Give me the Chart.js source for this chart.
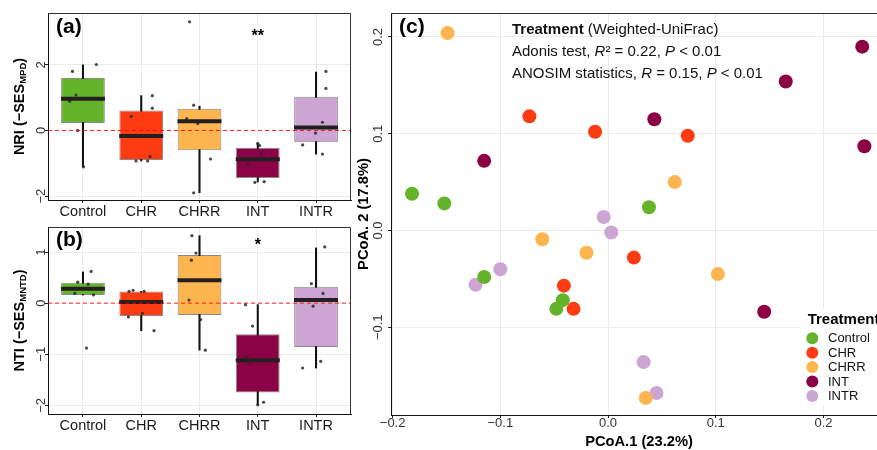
<!DOCTYPE html>
<html>
<head>
<meta charset="utf-8">
<script src="https://cdn.jsdelivr.net/npm/chart.js@4.4.1/dist/chart.umd.min.js"></script>
<style>
  html, body { margin: 0; padding: 0; background: #fff; overflow: hidden; width: 877px; height: 450px; position: relative; }
  canvas { position: absolute; }
</style>
</head>
<body>
<canvas id="nri" width="360" height="222" style="left:0;top:0"></canvas>
<canvas id="nti" width="360" height="222" style="left:0;top:214px"></canvas>
<canvas id="pcoa" width="540" height="450" style="left:350px;top:0"></canvas>
<script>
// ---- data ----
const categories = ["Control", "CHR", "CHRR", "INT", "INTR"];

// (a) NRI boxplots
const nriLow    = [-1.11, -0.93, -1.90, -1.57, -0.72];
const nriQ1     = [ 0.23, -0.90, -0.60, -1.45, -0.36];
const nriMedian = [ 0.97, -0.17,  0.28, -0.88,  0.09];
const nriQ3     = [ 1.60,  0.61,  0.66, -0.53,  1.03];
const nriHigh   = [ 2.00,  1.06,  0.74, -0.38,  1.78];
const nriPoints = [
  [2.01, 1.80, 1.08, 0.89, 0.00, -1.11],
  [1.06, 0.68, 0.43, -0.80, -0.93, -0.93],
  [0.77, 0.36, 0.21, -0.87, -1.90, 3.31],
  [-0.40, -0.46, -0.69, -1.04, -1.58, -1.56],
  [1.80, 1.28, 0.25, -0.08, -0.44, -0.72]
];
const nriJitter = [
  [0.23, -0.18, -0.12, -0.23, -0.09, 0.01],
  [0.19, 0.19, -0.17, 0.15, -0.09, 0.11],
  [-0.10, -0.22, -0.03, 0.19, -0.10, -0.17],
  [0.00, 0.03, 0.06, -0.17, -0.05, 0.11],
  [0.17, 0.17, 0.11, -0.01, -0.23, 0.11]
];
const nriSig = ["", "", "", "**", ""];
const nriSigY = [null, null, null, 2.97, null];

// (b) NTI boxplots
const ntiLow    = [ 0.16, -0.54, -0.92, -1.99, -1.27];
const ntiQ1     = [ 0.16, -0.25, -0.23, -1.75, -0.86];
const ntiMedian = [ 0.28,  0.02,  0.45, -1.12,  0.06];
const ntiQ3     = [ 0.40,  0.23,  0.94, -0.61,  0.32];
const ntiHigh   = [ 0.61,  0.23,  1.32, -0.03,  1.08];
const ntiPoints = [
  [0.62, 0.41, 0.37, 0.19, 0.16, -0.88],
  [0.23, 0.25, 0.23, -0.27, -0.20, -0.54],
  [1.32, 0.98, 0.84, 0.06, -0.32, -0.92],
  [-0.03, -0.45, -1.05, -1.17, -1.99, -1.94],
  [1.10, 0.38, 0.19, -0.06, -1.27, -1.14]
];
const ntiJitter = [
  [0.14, -0.09, 0.09, -0.14, 0.18, 0.06],
  [-0.21, -0.14, 0.05, -0.22, 0.02, 0.22],
  [-0.13, -0.06, -0.14, -0.18, 0.02, 0.10],
  [-0.21, -0.09, -0.20, -0.15, 0.00, 0.10],
  [0.15, -0.08, 0.12, -0.05, -0.23, 0.08]
];
const ntiSig = ["", "", "", "*", ""];
const ntiSigY = [null, null, null, 1.19, null];

// (c) PCoA scores per treatment
const pcoa1 = [
  [-0.182, -0.152, 0.038, -0.115, -0.042, -0.048],
  [-0.073, -0.012, 0.074, 0.024, -0.041, -0.032],
  [-0.149, 0.062, -0.061, -0.020, 0.102, 0.035],
  [0.236, 0.165, 0.043, 0.238, -0.115, 0.145],
  [-0.004, 0.003, -0.100, -0.123, 0.033, 0.045]
];
const pcoa2 = [
  [0.038, 0.028, 0.024, -0.048, -0.072, -0.081],
  [0.118, 0.102, 0.098, -0.028, -0.057, -0.081],
  [0.204, 0.050, -0.009, -0.023, -0.045, -0.173],
  [0.190, 0.154, 0.115, 0.087, 0.072, -0.084],
  [0.014, -0.002, -0.040, -0.056, -0.136, -0.168]
];

// ---- styling ----
const FONT = "'Liberation Sans', Arial, Helvetica, sans-serif";
const fills = ["#64B42B", "#FF3B12", "#FDB54F", "#8C0247", "#CDA5D2"];
const GRID = "#EBEBEB";
Chart.defaults.font.family = FONT;
Chart.defaults.color = "#222";

const minus = v => (v < 0 ? "\u2212" : "") + Math.abs(v);

// fixed axis size, no extra padding from tick labels
const fixSize = (key, n) => sc => {
  sc[key] = n;
  sc.paddingLeft = 0; sc.paddingRight = 0; sc.paddingTop = 0; sc.paddingBottom = 0;
};

// draws text made of runs in different fonts
function drawRuns(ctx, x, y, runs) {
  runs.forEach(r => {
    ctx.font = r.f;
    ctx.fillText(r.t, x, y + (r.dy || 0));
    x += ctx.measureText(r.t).width;
  });
  return x;
}
function runsWidth(ctx, runs) {
  let w = 0;
  runs.forEach(r => { ctx.font = r.f; w += ctx.measureText(r.t).width; });
  return w;
}

function frame(ctx, a) {
  ctx.save();
  ctx.strokeStyle = "#333";
  ctx.lineWidth = 1;
  ctx.beginPath();
  ctx.moveTo(a.left, a.top + 0.5);
  ctx.lineTo(a.right - 0.5, a.top + 0.5);
  ctx.lineTo(a.right - 0.5, a.bottom);
  ctx.stroke();
  ctx.restore();
}

/* ============================
   BOXPLOT PANELS (a) y (b)
============================ */
function boxPanel(id, s) {
  const pts = [];
  s.points.forEach((arr, i) => arr.forEach((v, k) => pts.push({ x: i + s.jitter[i][k], y: v })));

  const decor = {
    id: "decor-" + id,
    afterDraw(chart) {
      const ctx = chart.ctx, a = chart.chartArea;
      const xs = chart.scales.x, ys = chart.scales.y;
      frame(ctx, a);
      ctx.save();
      ctx.fillStyle = "#000";
      ctx.textAlign = "left";
      ctx.textBaseline = "alphabetic";
      ctx.font = "bold 21px " + FONT;
      ctx.fillText(s.panel, a.left + 8, a.top + s.labelDy);

      // significance marks
      ctx.textAlign = "center";
      ctx.font = "bold 16px " + FONT;
      s.sig.forEach((t, i) => {
        if (!t) return;
        ctx.fillText(t, xs.getPixelForValue(i), ys.getPixelForValue(s.sigY[i]) + 8);
      });

      // y title with subscript
      const runs = [
        { t: s.title + " (\u2212SES", f: "bold 14.5px " + FONT },
        { t: s.sub, f: "bold 9.5px " + FONT, dy: 3 },
        { t: ")", f: "bold 14.5px " + FONT }
      ];
      const w = runsWidth(ctx, runs);
      ctx.translate(20, (a.top + a.bottom) / 2);
      ctx.rotate(-Math.PI / 2);
      ctx.textAlign = "left";
      ctx.textBaseline = "middle";
      drawRuns(ctx, -w / 2, 0, runs);
      ctx.restore();
    }
  };

  return new Chart(document.getElementById(id), {
    type: "scatter",
    data: {
      datasets: [
        {
          type: "line",
          data: [{ x: -0.6, y: 0 }, { x: 4.6, y: 0 }],
          borderColor: "rgba(255,0,0,0.85)",
          borderWidth: 1,
          borderDash: [4, 3],
          pointRadius: 0,
          order: 0
        },
        {
          type: "scatter",
          data: pts,
          pointRadius: 1.6,
          pointBackgroundColor: "rgba(40,40,40,0.85)",
          pointBorderWidth: 0,
          order: 1
        },
        {
          type: "scatter",
          data: s.median.map((v, i) => ({ x: i, y: v })),
          pointStyle: "line",
          pointRadius: 22,
          pointBorderColor: "#231F20",
          pointBorderWidth: 4,
          order: 2
        },
        {
          type: "bar",
          data: s.q1.map((v, i) => ({ x: i, y: [v, s.q3[i]] })),
          backgroundColor: fills,
          borderColor: "rgba(40,40,40,0.55)",
          borderWidth: 1,
          borderSkipped: false,
          barPercentage: 0.75,
          categoryPercentage: 1,
          grouped: false,
          order: 3
        },
        {
          type: "bar",
          data: s.low.map((v, i) => ({ x: i, y: [v, s.high[i]] })),
          backgroundColor: "#111",
          barThickness: 1.4,
          grouped: false,
          order: 4
        }
      ]
    },
    options: {
      responsive: false,
      animation: false,
      devicePixelRatio: 1,
      events: [],
      layout: { autoPadding: false, padding: { left: 0, right: 9, top: 13, bottom: 0 } },
      plugins: { legend: { display: false }, tooltip: { enabled: false } },
      scales: {
        x: {
          type: "linear", min: -0.6, max: 4.6, offset: false,
          grid: { color: GRID, offset: false, tickLength: 3, tickColor: "#222" },
          border: { color: "#111" },
          ticks: {
            stepSize: 1, includeBounds: false, autoSkip: false, maxRotation: 0,
            padding: 0, color: "#1a1a1a", font: { size: 14.5 },
            callback: v => categories[Math.round(v)] || ""
          },
          afterFit: fixSize("height", 22)
        },
        y: {
          min: s.yMin, max: s.yMax,
          grid: { color: GRID, tickLength: 3, tickColor: "#222" },
          border: { color: "#111" },
          ticks: {
            stepSize: s.step, includeBounds: false, minRotation: 90, maxRotation: 90,
            crossAlign: "center", padding: -4, color: "#333", font: { size: 13 },
            callback: v => minus(v)
          },
          afterFit: fixSize("width", 48)
        }
      }
    },
    plugins: [decor]
  });
}

boxPanel("nri", {
  low: nriLow, q1: nriQ1, median: nriMedian, q3: nriQ3, high: nriHigh,
  points: nriPoints, jitter: nriJitter, sig: nriSig, sigY: nriSigY,
  yMin: -2.12, yMax: 3.58, step: 2,
  panel: "(a)", labelDy: 20, title: "NRI", sub: "MPD"
});
boxPanel("nti", {
  low: ntiLow, q1: ntiQ1, median: ntiMedian, q3: ntiQ3, high: ntiHigh,
  points: ntiPoints, jitter: ntiJitter, sig: ntiSig, sigY: ntiSigY,
  yMin: -2.17, yMax: 1.49, step: 1,
  panel: "(b)", labelDy: 19, title: "NTI", sub: "MNTD"
});

/* ============================
   PCoA PANEL (c)
============================ */
const pcoaDecor = {
  id: "decor-pcoa",
  afterDraw(chart) {
    const ctx = chart.ctx, a = chart.chartArea;
    frame(ctx, a);
    ctx.save();
    ctx.fillStyle = "#000";
    ctx.textBaseline = "alphabetic";
    ctx.textAlign = "left";
    ctx.font = "bold 21px " + FONT;
    ctx.fillText("(c)", a.left + 8, a.top + 20);

    // test statistics
    const n = "15px " + FONT, b = "bold 15px " + FONT, it = "italic 15px " + FONT;
    const tx = a.left + 121;
    ctx.fillStyle = "#111";
    drawRuns(ctx, tx, 34, [{ t: "Treatment", f: b }, { t: " (Weighted-UniFrac)", f: n }]);
    drawRuns(ctx, tx, 56, [{ t: "Adonis test, ", f: n }, { t: "R", f: it }, { t: "\u00b2 = 0.22, ", f: n },
                           { t: "P", f: it }, { t: " < 0.01", f: n }]);
    drawRuns(ctx, tx, 78, [{ t: "ANOSIM statistics, ", f: n }, { t: "R", f: it }, { t: " = 0.15, ", f: n },
                           { t: "P", f: it }, { t: " < 0.01", f: n }]);

    // legend
    ctx.fillStyle = "#fff";
    ctx.fillRect(450, 308, 90, 98);
    ctx.fillStyle = "#000";
    ctx.font = "bold 15px " + FONT;
    ctx.fillText("Treatment", 457.7, 324);
    ctx.font = "13px " + FONT;
    categories.forEach((c, i) => {
      const cy = 338.3 + i * 14.4;
      ctx.fillStyle = fills[i];
      ctx.beginPath();
      ctx.arc(462.3, cy, 6, 0, Math.PI * 2);
      ctx.fill();
      ctx.fillStyle = "#111";
      ctx.textBaseline = "middle";
      ctx.fillText(c, 478, cy + 0.5);
    });

    // axis titles
    ctx.fillStyle = "#000";
    ctx.textAlign = "center";
    ctx.textBaseline = "middle";
    ctx.font = "bold 14.7px " + FONT;
    ctx.fillText("PCoA.1 (23.2%)", (a.left + a.right) / 2, 441.7);
    ctx.translate(14, (a.top + a.bottom) / 2);
    ctx.rotate(-Math.PI / 2);
    ctx.fillText("PCoA. 2 (17.8%)", 0, 0);
    ctx.restore();
  }
};

new Chart(document.getElementById("pcoa"), {
  type: "scatter",
  data: {
    datasets: categories.map((c, i) => ({
      label: c,
      data: pcoa1[i].map((x, k) => ({ x: x, y: pcoa2[i][k] })),
      pointRadius: 7,
      pointBackgroundColor: fills[i],
      pointBorderWidth: 0
    }))
  },
  options: {
    responsive: false,
    animation: false,
    devicePixelRatio: 1,
    events: [],
    layout: { autoPadding: false, padding: { left: 0, right: 3, top: 13, bottom: 0 } },
    plugins: { legend: { display: false }, tooltip: { enabled: false } },
    scales: {
      x: {
        min: -0.2015, max: 0.259,
        grid: { color: GRID, tickLength: 3, tickColor: "#222" },
        border: { color: "#111" },
        ticks: {
          stepSize: 0.1, includeBounds: false, maxRotation: 0, padding: -2,
          color: "#333", font: { size: 13 },
          callback: v => (v < 0 ? "\u2212" : "") + Math.abs(v).toFixed(1)
        },
        afterFit: fixSize("height", 35)
      },
      y: {
        min: -0.1907, max: 0.2248,
        grid: { color: GRID, tickLength: 3, tickColor: "#222" },
        border: { color: "#111" },
        ticks: {
          stepSize: 0.1, includeBounds: false, minRotation: 90, maxRotation: 90,
          crossAlign: "center", padding: -3, color: "#333", font: { size: 13 },
          callback: v => (v < 0 ? "\u2212" : "") + Math.abs(v).toFixed(1)
        },
        afterFit: fixSize("width", 41)
      }
    }
  },
  plugins: [pcoaDecor]
});
</script>
</body>
</html>
